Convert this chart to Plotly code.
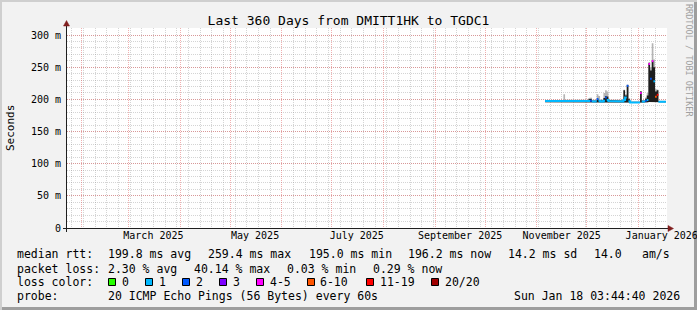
import plotly.graph_objects as go

# ---------------- data ----------------
X_START = "2025-01-23 03:44:40"
X_END = "2026-01-18 03:44:40"
Y_MAX = 310.9

title_text = "Last 360 Days from DMITT1HK to TGDC1"

y_tick_vals = [0, 50, 100, 150, 200, 250, 300]
y_tick_text = ["0", "50 m", "100 m", "150 m", "200 m", "250 m", "300 m"]

x_label_vals = ["2025-03-16", "2025-05-16", "2025-07-16", "2025-09-16", "2025-11-16", "2026-01-15"]
x_label_text = ["March 2025", "May 2025", "July 2025", "September 2025", "November 2025", "January 2026"]

# time steps (each value holds until the next date; last date = end of data)
dates = ["2025-11-06", "2025-11-17", "2025-11-18", "2025-12-02", "2025-12-03", "2025-12-04",
         "2025-12-07", "2025-12-08", "2025-12-09", "2025-12-11", "2025-12-12", "2025-12-13",
         "2025-12-14", "2025-12-15", "2025-12-23", "2025-12-24", "2025-12-25", "2025-12-26",
         "2025-12-27", "2026-01-02", "2026-01-03", "2026-01-05", "2026-01-06", "2026-01-07",
         "2026-01-08", "2026-01-09", "2026-01-10", "2026-01-11", "2026-01-12", "2026-01-13",
         "2026-01-17 12:00"]
median_ms = [197.5, 196.8, 196.8, 197.5, 198.0, 196.8,
             200.5, 198.0, 196.8, 198.0, 203.0, 199.0,
             197.5, 196.8, 199.0, 203.0, 221.0, 197.0,
             195.2, 210.0, 196.5, 198.0, 199.0, 255.0,
             232.0, 259.4, 228.0, 204.0, 207.0, 196.2,
             196.2]
loss_class = [1, 1, 1, 1, 2, 1,
              2, 1, 1, 1, 2, 1,
              1, 1, 1, 1, 2, 1,
              1, 4, 1, 2, 1, 4,
              2, 4, 1, 5, 6, 1,
              1]
smoke_min = [195.5, 195.5, 195.5, 195.5, 195.5, 195.5,
             196.0, 195.5, 195.5, 195.5, 196.0, 195.5,
             195.5, 195.5, 195.5, 195.5, 196.0, 195.0,
             194.5, 195.0, 195.0, 195.5, 195.5, 196.0,
             196.0, 196.0, 196.0, 196.0, 196.0, 195.5,
             195.5]
smoke_dense = [198.0, 198.0, 198.0, 200.0, 201.0, 198.0,
               201.0, 199.0, 198.0, 202.0, 205.0, 204.0,
               199.0, 198.0, 214.0, 206.0, 222.0, 200.0,
               196.0, 212.0, 198.0, 201.0, 206.0, 256.0,
               245.0, 260.0, 250.0, 212.0, 214.0, 197.0,
               197.0]
smoke_max = [199.0, 208.0, 199.5, 202.0, 203.0, 199.5,
             208.0, 205.0, 199.5, 210.0, 214.0, 212.0,
             201.0, 199.5, 215.0, 208.0, 223.0, 202.0,
             197.0, 213.0, 199.0, 203.0, 210.0, 258.0,
             250.0, 287.0, 262.0, 216.0, 215.0, 198.0,
             198.0]

loss_labels = ["0", "1", "2", "3", "4-5", "6-10", "11-19", "20/20"]
loss_colors = ["#26ff00", "#00b8ff", "#0059ff", "#7e00ff", "#ff00ff", "#ff5500", "#ff0000", "#a10000"]

legend_rows = [
    ["median rtt:", "199.8 ms avg", "259.4 ms max", "195.0 ms min", "196.2 ms now", "14.2 ms sd", "14.0", "am/s"],
    ["packet loss:", "2.30 % avg", "40.14 % max", "0.03 % min", "0.29 % now"],
    ["loss color:"],
    ["probe:", "20 ICMP Echo Pings (56 Bytes) every 60s", "Sun Jan 18 03:44:40 2026"],
]

# ---------------- styling ----------------
FONT = "DejaVu Sans Mono"
BACK = "#f2f2f2"
GRID = "rgba(143,143,143,0.38)"
MGRID = "rgba(222,79,79,0.45)"
ARROW = "#801f1f"
AXIS = "#1f1f1f"
SMOKE_LIGHT = "#b4b4b4"
SMOKE_DARK = "#1e1e1e"

PL, PR, PT, PB = 67, 667, 28, 228  # plot area in pixels


def px(x):
    return (x - PL) / (PR - PL)


def py(y):
    return (PB - y) / (PB - PT)


def steps(xs, ys):
    ox, oy = [], []
    for i in range(len(xs) - 1):
        ox += [xs[i], xs[i + 1]]
        oy += [ys[i], ys[i]]
    return ox, oy


fig = go.Figure()

# smoke
sx, s_lo = steps(dates, smoke_min)
_, s_hi = steps(dates, smoke_max)
_, s_dn = steps(dates, smoke_dense)
fig.add_trace(go.Scatter(x=sx, y=s_lo, mode="lines", line=dict(width=0), hoverinfo="skip"))
fig.add_trace(go.Scatter(x=sx, y=s_hi, mode="lines", line=dict(width=0), fill="tonexty",
                         fillcolor=SMOKE_LIGHT, hoverinfo="skip"))
fig.add_trace(go.Scatter(x=sx, y=s_lo, mode="lines", line=dict(width=0), hoverinfo="skip"))
fig.add_trace(go.Scatter(x=sx, y=s_dn, mode="lines", line=dict(width=0), fill="tonexty",
                         fillcolor=SMOKE_DARK, hoverinfo="skip"))

# median line, one trace per loss class
for c, col in enumerate(loss_colors):
    xs, ys = [], []
    for i in range(len(dates) - 1):
        if loss_class[i] != c:
            continue
        if i > 0 and loss_class[i - 1] == c:
            xs += [dates[i], dates[i + 1]]
            ys += [median_ms[i], median_ms[i]]
        else:
            if xs:
                xs.append(None)
                ys.append(None)
            xs += [dates[i], dates[i + 1]]
            ys += [median_ms[i], median_ms[i]]
    if xs:
        fig.add_trace(go.Scatter(x=xs, y=ys, mode="lines", line=dict(color=col, width=2),
                                 hoverinfo="skip"))

# invisible trace to carry the label axis
fig.add_trace(go.Scatter(x=[X_START, X_END], y=[0, 0], xaxis="x2", mode="lines",
                         line=dict(width=0), opacity=0, hoverinfo="skip"))

shapes = []
# border shading
shapes.append(dict(type="rect", xref="paper", yref="paper", x0=px(0), x1=px(697), y0=py(0), y1=py(2),
                   fillcolor="#cfcfcf", line=dict(width=0), layer="below"))
shapes.append(dict(type="rect", xref="paper", yref="paper", x0=px(0), x1=px(2), y0=py(0), y1=py(310),
                   fillcolor="#cfcfcf", line=dict(width=0), layer="below"))
shapes.append(dict(type="rect", xref="paper", yref="paper", x0=px(2), x1=px(697), y0=py(307), y1=py(310),
                   fillcolor="#9e9e9e", line=dict(width=0), layer="below"))
shapes.append(dict(type="rect", xref="paper", yref="paper", x0=px(694), x1=px(697), y0=py(2), y1=py(310),
                   fillcolor="#9e9e9e", line=dict(width=0), layer="below"))
# axes
shapes.append(dict(type="line", xref="paper", yref="paper", x0=px(63), x1=px(670), y0=py(228.5), y1=py(228.5),
                   line=dict(color=AXIS, width=1)))
shapes.append(dict(type="line", xref="paper", yref="paper", x0=px(66.5), x1=px(66.5), y0=py(232), y1=py(25),
                   line=dict(color=AXIS, width=1)))
# arrows
shapes.append(dict(type="path", xref="paper", yref="paper",
                   path=f"M {px(668)} {py(225.5)} L {px(673.5)} {py(228.5)} L {px(668)} {py(231.5)} Z",
                   fillcolor=ARROW, line=dict(color=ARROW, width=0.5)))
shapes.append(dict(type="path", xref="paper", yref="paper",
                   path=f"M {px(63.5)} {py(26)} L {px(66.5)} {py(20.5)} L {px(69.5)} {py(26)} Z",
                   fillcolor=ARROW, line=dict(color=ARROW, width=0.5)))

annotations = []
LEG_FONT = dict(family=FONT, size=11.5, color="#000000")


def add_text(x, y, text, **kw):
    d = dict(xref="paper", yref="paper", x=px(x), y=py(y), text=text, showarrow=False,
             xanchor="left", yanchor="middle", font=LEG_FONT)
    d.update(kw)
    annotations.append(d)


row_y = [254.3, 268.7, 282.3, 296.0]
row_x = [
    [15, 106, 206, 307, 406, 506, 592, 640],
    [15, 106, 192, 285, 371],
    [15],
    [15, 106, 512],
]
for r, items in enumerate(legend_rows):
    for t, xx in zip(items, row_x[r]):
        add_text(xx, row_y[r], t)

# loss colour boxes
box_x = [108.5, 145.5, 182.5, 219.5, 256.5, 307.5, 366.5, 431.5]
lab_x = [120, 157, 194, 231, 268, 318, 378, 443]
for bx, lx, lab, col in zip(box_x, lab_x, loss_labels, loss_colors):
    shapes.append(dict(type="rect", xref="paper", yref="paper", x0=px(bx), x1=px(bx + 7),
                       y0=py(278.5), y1=py(285.5), fillcolor=col, line=dict(color="#000000", width=1)))
    add_text(lx, row_y[2], lab)

# y axis title
annotations.append(dict(xref="paper", yref="paper", x=px(10), y=py(128), text="Seconds",
                        textangle=-90, showarrow=False, xanchor="center", yanchor="middle",
                        font=dict(family=FONT, size=11, color="#000000")))
# watermark
annotations.append(dict(xref="paper", yref="paper", x=px(689), y=py(60), text="RRDTOOL / TOBI OETIKER",
                        textangle=90, showarrow=False, xanchor="center", yanchor="middle",
                        font=dict(family=FONT, size=8.5, color="#a0a0a0")))

fig.update_layout(
    width=697, height=310,
    margin=dict(l=PL, r=697 - PR, t=PT, b=310 - PB, pad=0),
    paper_bgcolor=BACK, plot_bgcolor="#ffffff",
    showlegend=False,
    font=dict(family=FONT, size=10, color="#000000"),
    title=dict(text=title_text, x=0.5, xref="container", xanchor="center",
               y=1 - 20 / 310, yref="container", yanchor="middle",
               font=dict(family=FONT, size=13, color="#000000")),
    xaxis=dict(type="date", range=[X_START, X_END], tickmode="linear", dtick="M1", tick0="2025-02-01",
               showgrid=True, gridcolor=MGRID, griddash="1px,1px", gridwidth=1,
               showticklabels=False, ticks="", zeroline=False, showline=False,
               minor=dict(tickmode="linear", dtick=7 * 86400000, tick0="2025-01-26", showgrid=True,
                          gridcolor=GRID, griddash="1px,1px", gridwidth=1)),
    xaxis2=dict(type="date", range=[X_START, X_END], overlaying="x", anchor="y", side="bottom",
                tickmode="array", tickvals=x_label_vals, ticktext=x_label_text,
                showgrid=False, ticks="", zeroline=False, showline=False,
                ticklabeloverflow="allow",
                tickfont=dict(family=FONT, size=10, color="#000000"), automargin=False),
    yaxis=dict(range=[0, Y_MAX], tickmode="array", tickvals=y_tick_vals, ticktext=y_tick_text,
               showgrid=True, gridcolor=MGRID, griddash="1px,1px", gridwidth=1,
               minor=dict(tickmode="linear", tick0=0, dtick=10, showgrid=True,
                          gridcolor=GRID, griddash="1px,1px", gridwidth=1),
               ticks="", zeroline=False, showline=False, automargin=False,
               tickfont=dict(family=FONT, size=10, color="#000000"), ticklabelstandoff=5),
    shapes=shapes,
    annotations=annotations,
)

fig.write_html("out.html")
